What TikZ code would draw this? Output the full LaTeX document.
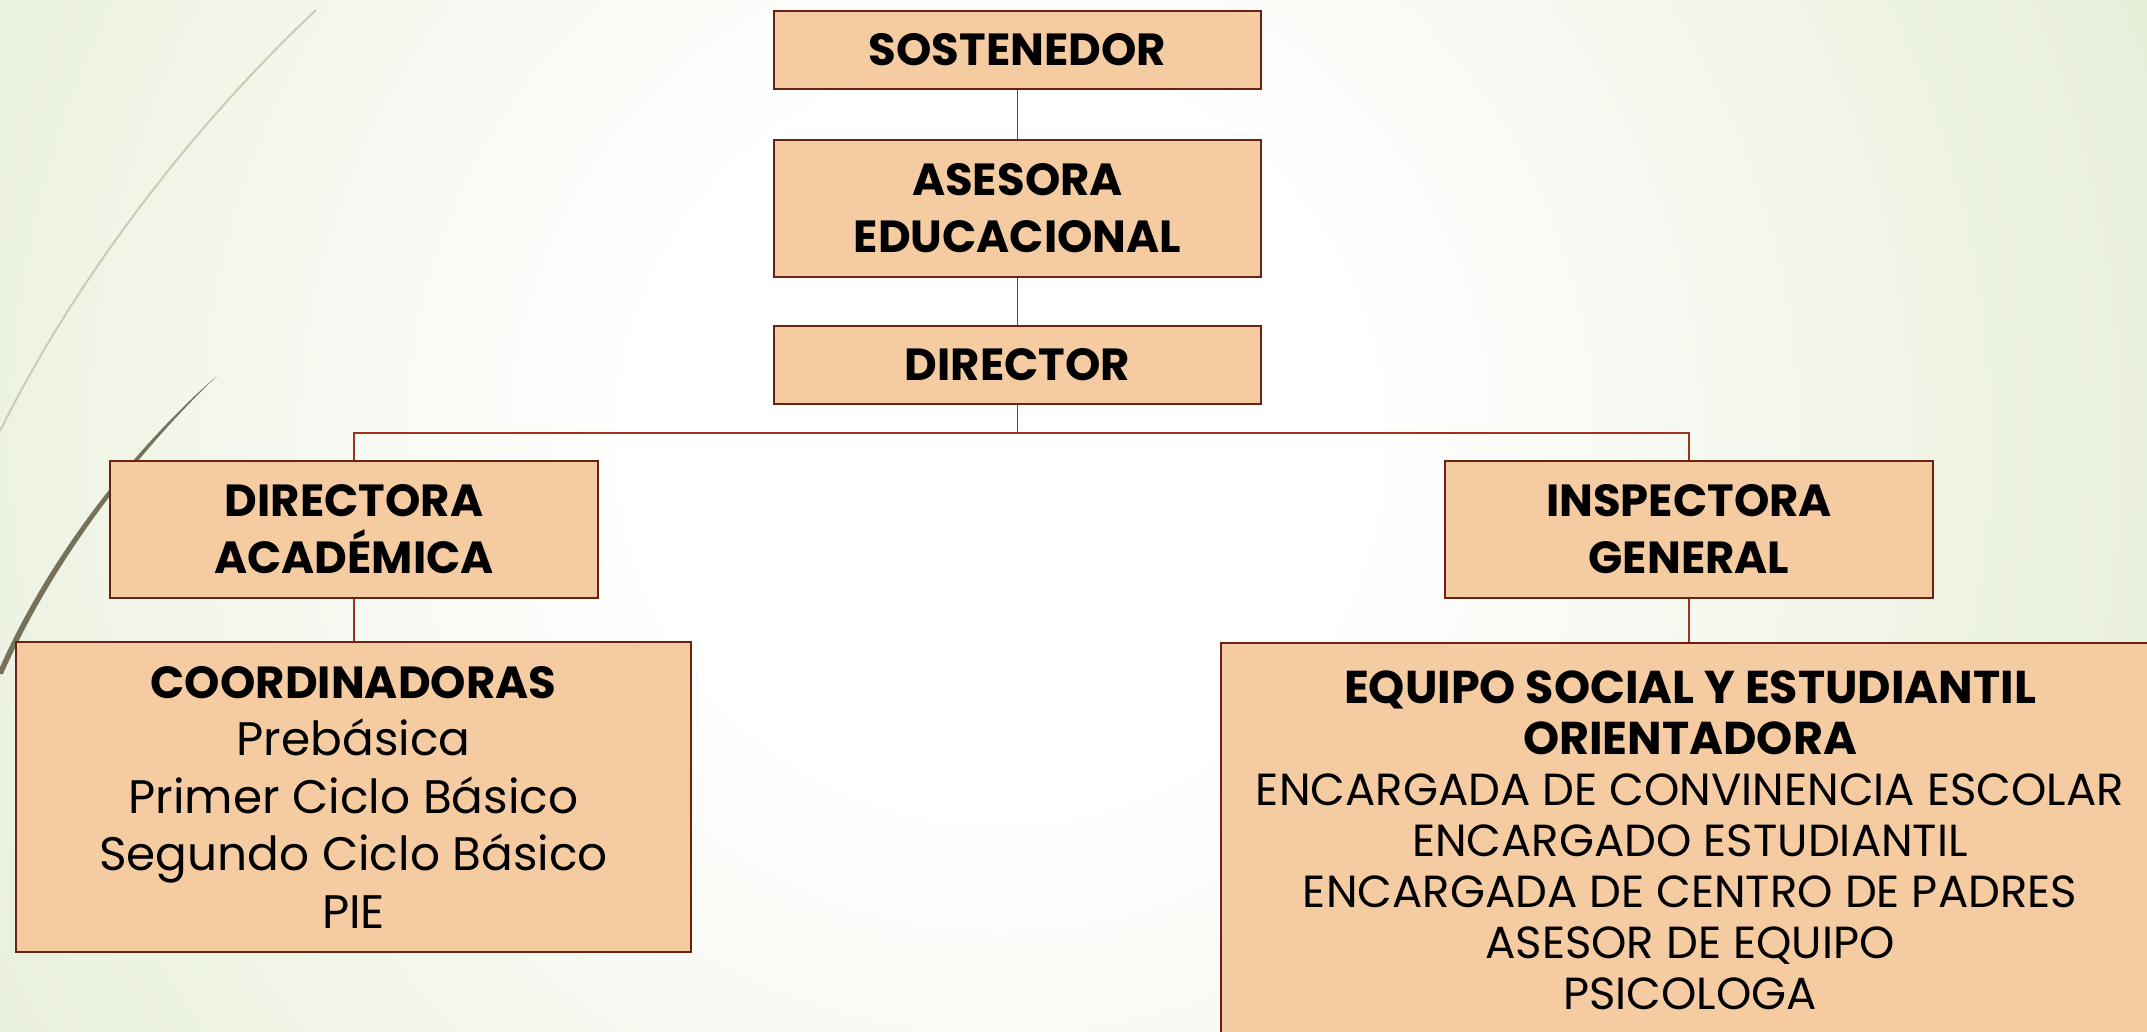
\documentclass[tikz,border=0pt]{standalone}
\usepackage{fontspec}
\setmainfont{Poppins}
\definecolor{boxfill}{RGB}{245,204,162}
\definecolor{boxline}{RGB}{105,35,20}
\definecolor{connc}{RGB}{160,50,28}
\definecolor{bggreen}{RGB}{220,231,199}
\definecolor{wispA}{RGB}{200,206,178}
\definecolor{wispB}{RGB}{118,114,90}
\pgfdeclareradialshading{bgshade}{\pgfpoint{0bp}{0bp}}{color(0bp)=(white); color(6bp)=(white); color(27bp)=(bggreen); color(50bp)=(bggreen)}
\begin{document}
\begin{tikzpicture}[x=1pt,y=-1pt,
  box/.style={draw=boxline, line width=1.5pt, fill=boxfill, inner sep=0pt, align=center, text=black},
  conn/.style={draw=connc, line width=1.5pt},
  hdfont/.style={font=\fontsize{45}{57}\selectfont\bfseries}]
\clip (0,0) rectangle (2147,1032);
\shade[shading=bgshade] (1000,440) circle (1500);
% decorative wisps
\draw[wispA, line width=2pt] (316,10) .. controls (220,100) and (90,250) .. (0,431);
\fill[wispB] (217,376) .. controls (160,430) and (62,540) .. (3,674) -- (-3,674) .. controls (56,538) and (156,428) .. (217,376) -- cycle;
% boxes
\node[box, hdfont, minimum width=487pt, minimum height=78pt] (sost) at (1017.5,50) {SOSTENEDOR};
\node[box, hdfont, minimum width=487pt, minimum height=137pt] (ases) at (1017.5,208.5) {ASESORA\\EDUCACIONAL};
\node[box, hdfont, minimum width=487pt, minimum height=78pt] (dir) at (1017.5,365) {DIRECTOR};
\node[box, hdfont, minimum width=488pt, minimum height=137pt] (dacad) at (354,529.5) {DIRECTORA\\ACADÉMICA};
\node[box, hdfont, minimum width=488pt, minimum height=137pt] (insp) at (1689,529.5) {INSPECTORA\\GENERAL};
\node[box, font=\fontsize{47}{57.5}\selectfont, minimum width=675pt, minimum height=310pt] (coord) at (353.5,797)
  {{\fontsize{45}{57.5}\selectfont\bfseries COORDINADORAS}\\Prebásica\\Primer Ciclo Básico\\Segundo Ciclo Básico\\PIE};
\node[box, font=\fontsize{45}{51}\selectfont, minimum width=938pt, minimum height=396pt, anchor=north] (equipo) at (1690,642)
  {{\fontsize{46}{60}\selectfont\bfseries EQUIPO SOCIAL Y ESTUDIANTIL}\\{\fontsize{46}{60}\selectfont\bfseries ORIENTADORA}\\ENCARGADA DE CONVINENCIA ESCOLAR\\ENCARGADO ESTUDIANTIL\\ENCARGADA DE CENTRO DE PADRES\\ASESOR DE EQUIPO\\PSICOLOGA};
% connectors
\coordinate (bus) at (1017.5,433);
\draw[conn] (sost.south) -- (ases.north);
\draw[conn] (ases.south) -- (dir.north);
\draw[conn] (dir.south) -- (bus);
\draw[conn] (dacad.north) |- (bus) -| (insp.north);
\draw[conn] (dacad.south) -- (dacad.south |- coord.north);
\draw[conn] (insp.south) -- (insp.south |- equipo.north);
\end{tikzpicture}
\end{document}
